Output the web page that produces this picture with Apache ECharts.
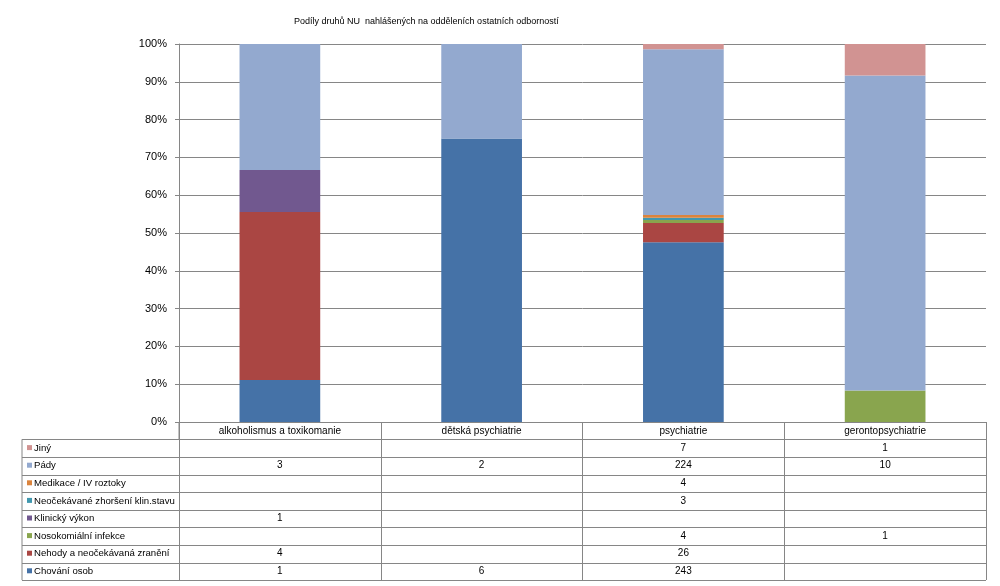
<!DOCTYPE html>
<html><head><meta charset="utf-8">
<script src="https://cdn.jsdelivr.net/npm/echarts@6/dist/echarts.min.js"></script>
<style>html,body{margin:0;padding:0;background:#fff}#c{width:1000px;height:586px}</style>
</head><body><div id="c"></div>
<script>
const categories = ['alkoholismus a toxikomanie', 'dětská psychiatrie', 'psychiatrie', 'gerontopsychiatrie'];
// series bottom-to-top
const seriesNames = ['Chování osob', 'Nehody a neočekávaná zranění', 'Nosokomiální infekce', 'Klinický výkon', 'Neočekávané zhoršení klin.stavu', 'Medikace / IV roztoky', 'Pády', 'Jiný'];
const chovani = [1, 6, 243, null];
const nehody = [4, null, 26, null];
const nosokomialni = [null, null, 4, 1];
const klinicky = [1, null, null, null];
const neocekavane = [null, null, 3, null];
const medikace = [null, null, 4, null];
const pady = [3, 2, 224, 10];
const jiny = [null, null, 7, 1];
const yTicks = [0, 10, 20, 30, 40, 50, 60, 70, 80, 90, 100];

const seriesValues = [chovani, nehody, nosokomialni, klinicky, neocekavane, medikace, pady, jiny];
const colors = ['#4572A7', '#AA4643', '#89A54E', '#71588F', '#4198AF', '#DB843D', '#93A9CF', '#D19392'];
const FONT = 'Liberation Sans';
const totals = categories.map((_, i) => seriesValues.reduce((s, a) => s + (a[i] || 0), 0));

const chart = echarts.init(document.getElementById('c'));
const gridL = 179, gridR = 14, gridT = 44, gridB = 164;
chart.setOption({
  animation: false,
  textStyle: { fontFamily: FONT },
  title: { text: 'Podíly druhů NU  nahlášených na odděleních ostatních odborností', left: 289, top: 12,
    textStyle: { fontFamily: FONT, fontSize: 9, fontWeight: 'normal', color: '#000' } },
  grid: { left: gridL, right: gridR, top: gridT, bottom: gridB, containLabel: false },
  xAxis: { type: 'category', data: categories,
    axisLine: { lineStyle: { color: '#868686', width: 1 } },
    axisTick: { show: true, length: 158, lineStyle: { color: '#868686' } },
    axisLabel: { margin: 4, fontSize: 10, color: '#000', fontFamily: FONT, interval: 0 } },
  yAxis: { type: 'value', min: yTicks[0], max: yTicks[yTicks.length - 1], interval: 10,
    axisLine: { show: true, lineStyle: { color: '#868686' } },
    axisTick: { show: true, length: 4, lineStyle: { color: '#868686' } },
    axisLabel: { formatter: '{value}%', margin: 12, fontSize: 11, color: '#000', fontFamily: FONT },
    splitLine: { lineStyle: { color: '#868686' } } },
  series: seriesNames.map((n, k) => ({
    name: n, type: 'bar', stack: 'all', barCategoryGap: '60%',
    itemStyle: { color: colors[k] },
    data: seriesValues[k].map((v, i) => v == null ? null : v / totals[i] * 100)
  }))
});

// data table
const headerBottom = 439.3, rowH = 17.6, tableLeft = 22, tableRight = 1000 - gridR;
const g = [];
const rowOrder = seriesNames.map((_, k) => k).reverse();
g.push({ type: 'line', shape: { x1: tableLeft, y1: headerBottom, x2: tableLeft, y2: headerBottom + rowH * rowOrder.length }, style: { stroke: '#868686', lineWidth: 1 } });
g.push({ type: 'line', shape: { x1: gridL, y1: headerBottom - 17.3, x2: gridL, y2: headerBottom }, style: { stroke: '#868686', lineWidth: 1 } });
for (let r = 0; r <= rowOrder.length; r++) {
  const y = Math.round(headerBottom + r * rowH) + 0.5;
  g.push({ type: 'line', shape: { x1: tableLeft, y1: y, x2: tableRight, y2: y }, style: { stroke: '#868686', lineWidth: 1 } });
}
rowOrder.forEach((k, r) => {
  const yc = headerBottom + r * rowH + rowH / 2;
  g.push({ type: 'rect', shape: { x: 27, y: yc - 3, width: 5, height: 5 }, style: { fill: colors[k] } });
  g.push({ type: 'text', x: 34, y: yc, style: { text: seriesNames[k], fontSize: 9.6, fontFamily: FONT, fill: '#000', verticalAlign: 'middle' } });
  categories.forEach((c, i) => {
    const v = seriesValues[k][i];
    if (v == null) return;
    const x = chart.convertToPixel({ xAxisIndex: 0 }, c);
    g.push({ type: 'text', x: x, y: yc, style: { text: String(v), fontSize: 10, fontFamily: FONT, fill: '#000', align: 'center', verticalAlign: 'middle' } });
  });
});
chart.setOption({ graphic: g });
</script></body></html>
